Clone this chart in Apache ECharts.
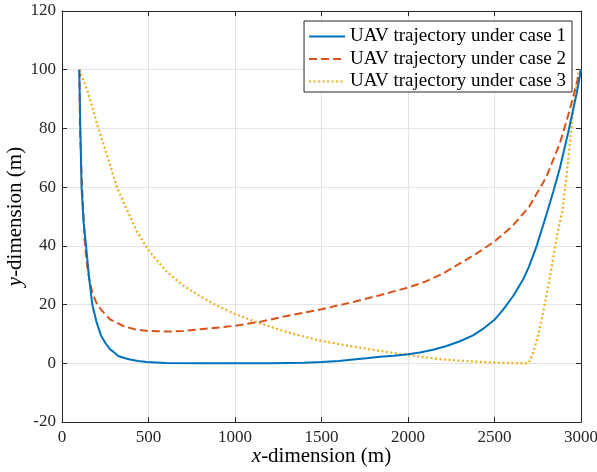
<!DOCTYPE html>
<html>
<head>
<meta charset="utf-8">
<script src="https://cdn.jsdelivr.net/npm/echarts@6/dist/echarts.min.js"></script>
<style>
  html, body { margin: 0; padding: 0; background: #fff; }
  #main { width: 597px; height: 472px; }
</style>
</head>
<body>
<div id="main"></div>
<script>
// 图例名称
const seriesNames = ['UAV trajectory under case 1', 'UAV trajectory under case 2', 'UAV trajectory under case 3']

// case 1
const case1X = [100, 106, 113, 125, 139, 155, 175, 200, 225, 250, 277, 300, 325, 360, 393, 440, 490, 600, 800, 1000, 1200, 1400, 1500, 1600, 1684, 1760, 1838, 1920, 2000, 2069, 2150, 2223, 2300, 2376, 2440, 2500, 2550, 2609, 2666, 2700, 2744, 2802, 2840, 2878, 2926, 2975, 3000]
const case1Y = [100, 80, 60, 48, 40, 30, 20, 14, 9.5, 7, 4.8, 3.8, 2.5, 1.8, 1.3, 0.8, 0.4, 0.1, 0, 0, 0.05, 0.2, 0.4, 0.8, 1.3, 1.7, 2.2, 2.6, 3.1, 3.7, 4.7, 5.9, 7.5, 9.5, 12, 14.8, 18.3, 23, 28.6, 33, 40, 51, 58.5, 66.5, 78.6, 92, 100]

// case 2
const case2X = [100, 104, 116, 133, 150, 175, 200, 225, 277, 354, 420, 500, 614, 700, 800, 913, 1000, 1144, 1298, 1500, 1684, 1838, 2000, 2100, 2200, 2300, 2400, 2500, 2600, 2700, 2800, 2878, 2936, 2985, 3000]
const case2Y = [100, 80, 60, 40, 31, 24, 20.5, 18.3, 15, 12.7, 11.6, 11, 10.8, 11, 11.6, 12.2, 12.8, 14.1, 16.1, 18.4, 20.9, 23.2, 25.8, 27.8, 30.5, 34, 37.5, 41.5, 46.5, 53.3, 63.5, 75, 86.5, 97.7, 100]

// case 3
const case3X = [100, 152, 210, 268, 316, 374, 432, 500, 600, 700, 800, 900, 1000, 1125, 1300, 1500, 1700, 1850, 2000, 2200, 2400, 2600, 2686, 2700, 2720, 2750, 2780, 2810, 2840, 2870, 2893, 2927, 2955, 2985, 3000]
const case3Y = [100, 92, 80, 69.5, 60.2, 52.5, 45, 38.5, 31.5, 26.5, 22.8, 19.5, 16.8, 14, 10.6, 7.6, 5.5, 4.1, 2.8, 1.3, 0.5, 0.05, 0, 0.3, 3, 9, 17, 26, 36, 46, 52, 69.5, 86.5, 99, 100]

const seriesColors = ['#0072BD', '#D95319', '#EDB120']
const lineTypes = ['solid', [8, 4], [2, 2.5]]

const zip = (xs, ys) => xs.map((x, i) => [x, ys[i]])
const seriesData = [zip(case1X, case1Y), zip(case2X, case2Y), zip(case3X, case3Y)]

const font = 'Liberation Serif'
const axisColor = '#262626'

const chart = echarts.init(document.getElementById('main'))

// 外框上的刻度（上、右）
const mirrorAxis = {
  axisLine: { show: true, onZero: false, lineStyle: { color: axisColor, width: 1 } },
  axisTick: { show: true, inside: true, length: 5, lineStyle: { color: axisColor } },
  axisLabel: { show: false },
  splitLine: { show: false }
}

const nameStyle = {
  fontFamily: font, fontSize: 21, color: '#000',
  rich: { i: { fontFamily: font, fontStyle: 'italic', fontSize: 21, color: '#000' } }
}

chart.setOption({
  animation: false,
  backgroundColor: '#fff',
  textStyle: { fontFamily: font },
  grid: { left: 62, top: 11, right: 16, bottom: 50, show: false, containLabel: false, outerBoundsMode: 'none' },
  legend: {
    data: seriesNames,
    orient: 'vertical',
    right: 25,
    top: 21,
    itemWidth: 36,
    itemHeight: 12,
    itemGap: 3.5,
    padding: [6, 6, 1, 4],
    backgroundColor: '#fff',
    borderColor: axisColor,
    borderWidth: 1,
    borderRadius: 0,
    itemStyle: { opacity: 0 },
    textStyle: { fontFamily: font, fontSize: 19, lineHeight: 19, color: '#000' }
  },
  xAxis: [{
    type: 'value',
    min: 0,
    max: 3000,
    interval: 500,
    name: '{i|x}-dimension (m)',
    nameLocation: 'middle',
    nameGap: 24,
    nameMoveOverlap: false,
    nameTextStyle: nameStyle,
    axisLine: { show: true, onZero: false, lineStyle: { color: axisColor, width: 1 } },
    axisTick: { show: true, inside: true, length: 5, lineStyle: { color: axisColor } },
    axisLabel: { fontFamily: font, fontSize: 17, color: axisColor, margin: 7, formatter: v => String(v) },
    splitLine: { show: true, lineStyle: { color: '#e3e3e3', width: 1 } }
  }, Object.assign({
    type: 'value', position: 'top', min: 0, max: 3000, interval: 500
  }, mirrorAxis)],
  yAxis: [{
    type: 'value',
    min: -20,
    max: 120,
    interval: 20,
    name: '{i|y}-dimension (m)',
    nameLocation: 'middle',
    nameGap: 36,
    nameMoveOverlap: false,
    nameTextStyle: nameStyle,
    axisLine: { show: true, onZero: false, lineStyle: { color: axisColor, width: 1 } },
    axisTick: { show: true, inside: true, length: 5, lineStyle: { color: axisColor } },
    axisLabel: { fontFamily: font, fontSize: 17, color: axisColor, margin: 6, formatter: v => String(v) },
    splitLine: { show: true, lineStyle: { color: '#e3e3e3', width: 1 } }
  }, Object.assign({
    type: 'value', position: 'right', min: -20, max: 120, interval: 20
  }, mirrorAxis)],
  series: seriesNames.map((name, i) => ({
    name: name,
    type: 'line',
    xAxisIndex: 0,
    yAxisIndex: 0,
    data: seriesData[i],
    symbol: 'none',
    smooth: false,
    color: seriesColors[i],
    lineStyle: { color: seriesColors[i], width: i === 2 ? 2.3 : 2, type: lineTypes[i] },
    z: 3 - i
  }))
})
</script>
</body>
</html>
